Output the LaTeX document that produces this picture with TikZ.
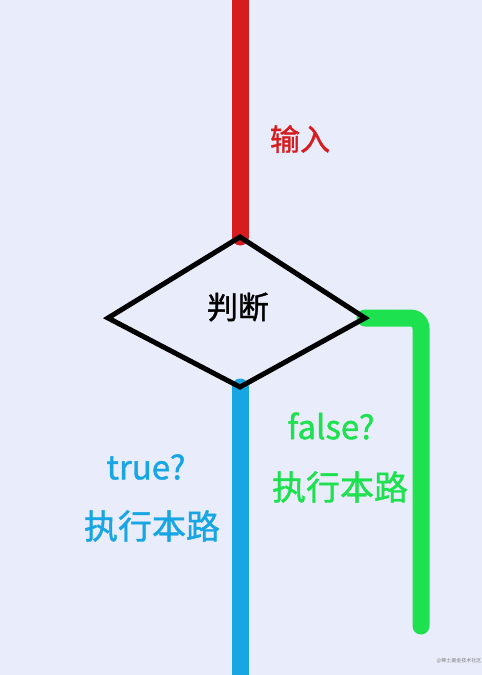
\documentclass[tikz,border=0pt]{standalone}
\usepackage{fontspec}
\setmainfont{Noto Sans CJK SC}
\newfontface\medf{Noto Sans CJK SC}[FakeBold=1.2]
\definecolor{bg}{HTML}{E9ECFA}
\definecolor{redl}{HTML}{D71C1F}
\definecolor{greenl}{HTML}{1DE14E}
\definecolor{bluel}{HTML}{17A6E3}
\begin{document}
\begin{tikzpicture}[x=1pt,y=-1pt,
  thick line/.style={line width=17pt, line cap=round, line join=round},
  lbl/.style={inner sep=0pt}]
\fill[bg] (0,0) rectangle (482,675);
\useasboundingbox (0,0) rectangle (482,675);
% coordinates
\coordinate (top) at (240,-20);
\coordinate (dT) at (240,237);
\coordinate (dL) at (108,318);
\coordinate (dR) at (365,318);
\coordinate (dB) at (240,387);
\coordinate (gc) at (421,318);
\coordinate (gend) at (421,626);
\coordinate (bend) at (240,700);
% red input
\draw[thick line, redl, line cap=butt] (top) -- (240,228);
\draw[thick line, redl] (240,200) -- (dT);
% green
\draw[thick line, greenl, rounded corners=10pt] (dR) -- (gc) -- (gend);
% blue
\draw[thick line, bluel] (dB) -- (bend);
% diamond
\draw[line width=5pt, line join=miter] (dT) -- (dR) -- (dB) -- (dL) -- cycle;
% labels
\node[lbl, text=redl, font=\medf\fontsize{30}{30}\selectfont] (in) at (300,139) {输入};
\node[lbl, font=\medf\fontsize{31}{31}\selectfont] (jd) at (238,307) {判断};
\node[lbl, text=greenl, font=\medf\fontsize{33}{33}\selectfont] (fq) at (331,426) {false?};
\node[lbl, text=greenl, font=\medf\fontsize{34}{34}\selectfont] (fx) at (340,487) {执行本路};
\node[lbl, text=bluel, font=\medf\fontsize{33}{33}\selectfont] (tq) at (146,467) {true?};
\node[lbl, text=bluel, font=\medf\fontsize{34}{34}\selectfont] (tx) at (152,526) {执行本路};
\node[inner sep=0pt, text=gray, font=\fontsize{5}{5}\selectfont] (wm) at (459,661) {@稀土掘金技术社区};
\end{tikzpicture}
\end{document}
